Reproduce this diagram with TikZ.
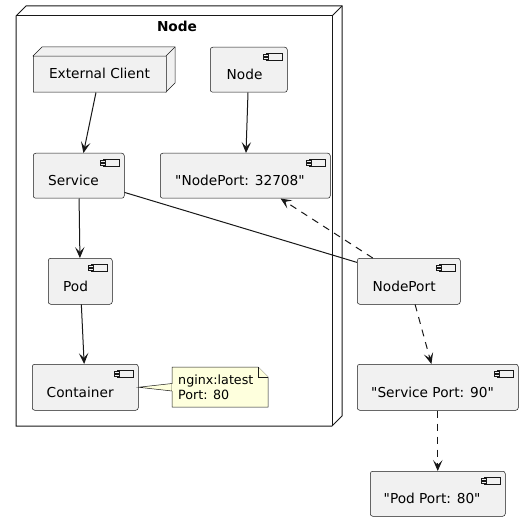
\documentclass[tikz,border=0pt]{standalone}
\usepackage{fontspec}
\setmainfont{DejaVu Sans}[Ligatures=TeXOff]
\usetikzlibrary{arrows.meta,calc}
\definecolor{compfill}{HTML}{F1F1F1}
\definecolor{compborder}{HTML}{181818}
\definecolor{notefill}{HTML}{FEFFDD}
\tikzset{
  comp/.style={draw=compborder, fill=compfill, line width=0.5pt, rounded corners=2.5pt, inner sep=0pt},
  iconst/.style={draw=compborder, fill=compfill, line width=0.5pt},
  lbl/.style={inner sep=0pt, font=\fontsize{13.7}{16}\selectfont, text=black},
  notelbl/.style={inner sep=0pt, font=\fontsize{12.7}{15}\selectfont, text=black},
  conn/.style={draw=compborder, line width=1pt},
  arr/.style={conn, -{Stealth[length=11pt, width=9.5pt, inset=5pt]}},
  dsh/.style={arr, dash pattern=on 7pt off 6pt},
}
\newcommand\cicon[1]{%
  \draw[iconst] ($(#1.north east)+(-21,6)$) rectangle ($(#1.north east)+(-5,13)$);
  \draw[iconst] ($(#1.north east)+(-24,7)$) rectangle ($(#1.north east)+(-19,9)$);
  \draw[iconst] ($(#1.north east)+(-24,10)$) rectangle ($(#1.north east)+(-19,12)$);
}
\begin{document}
\begin{tikzpicture}[x=1pt,y=-1pt]
\useasboundingbox (0,0) rectangle (532,521);
% outer node
\draw[line width=1pt, draw=compborder, fill=white] (16,16) -- (26,6) -- (342,6) -- (342,416) -- (332,426) -- (16,426) -- cycle;
\draw[line width=1pt, draw=compborder] (16,16) -- (332,16) -- (332,426);
\draw[line width=1pt, draw=compborder] (332,16) -- (342,6);
\node[inner sep=0pt, font=\fontsize{13.7}{16}\selectfont\bfseries, anchor=base] (title) at (177,31.5) {Node};
% external client (3D node)
\draw[iconst] (33,56) -- (42,47) -- (175,47) -- (175,83) -- (166,92) -- cycle;
\draw[iconst] (166,56) -- (175,47);
\node[comp, rounded corners=0.3pt, minimum width=133pt, minimum height=36pt, anchor=north west] (ext) at (33,56) {};
\node[lbl, anchor=base] (extl) at (99.5,79) {External Client};
% components
\node[comp, minimum width=77pt, minimum height=45pt, anchor=north west] (nd) at (210,47) {};
\node[comp, minimum width=91pt, minimum height=45pt, anchor=north west] (svc) at (33,153) {};
\node[comp, minimum width=170pt, minimum height=45pt, anchor=north west] (np32) at (160,153) {};
\node[comp, minimum width=64pt, minimum height=46pt, anchor=north west] (pod) at (48,258) {};
\node[comp, minimum width=106pt, minimum height=46pt, anchor=north west] (cont) at (32,364) {};
\node[comp, minimum width=103pt, minimum height=46pt, anchor=north west] (nport) at (357,258) {};
\node[comp, minimum width=161pt, minimum height=46pt, anchor=north west] (sport) at (357,364) {};
\node[comp, minimum width=135pt, minimum height=45pt, anchor=north west] (pport) at (370,471) {};
\foreach \n in {nd,svc,np32,pod,cont,nport,sport,pport} {\cicon{\n}}
\node[lbl, anchor=base west] (ndl) at ($(nd.north west)+(16.5,32.5)$) {Node};
\node[lbl, anchor=base west] (svcl) at ($(svc.north west)+(15,32.5)$) {Service};
\node[lbl, anchor=base west] (np32l) at ($(np32.north west)+(15,32.5)$) {"NodePort: 32708"};
\node[lbl, anchor=base west] (podl) at ($(pod.north west)+(15,33)$) {Pod};
\node[lbl, anchor=base west] (contl) at ($(cont.north west)+(14.5,33)$) {Container};
\node[lbl, anchor=base west] (nportl) at ($(nport.north west)+(15.5,33)$) {NodePort};
\node[lbl, anchor=base west] (sportl) at ($(sport.north west)+(14,33)$) {"Service Port: 90"};
\node[lbl, anchor=base west] (pportl) at ($(pport.north west)+(13.5,32.5)$) {"Pod Port: 80"};
% note
\coordinate (nanchor) at (cont.east);
\draw[draw=compborder, fill=notefill, line width=0.5pt] (nanchor) -- (172,383.5) -- (172,391) -- cycle;
\draw[draw=compborder, fill=notefill, line width=0.5pt] (172,367) -- (258,367) -- (268,377) -- (268,407) -- (172,407) -- cycle;
\draw[draw=compborder, fill=notefill, line width=0.5pt] (258,367) -- (258,377) -- (268,377);
\fill[notefill] (172.3,384) rectangle (173,390.5);
\node[notelbl, anchor=base west] (note1) at (178,384) {nginx:latest};
\node[notelbl, anchor=base west] (note2) at (178,399) {Port: 80};
% connectors
\draw[arr] (ext) -- (svc);
\draw[arr] (nd) -- (np32);
\draw[arr] (svc) -- (pod);
\draw[arr] (pod) -- (cont);
\draw[conn] (svc.-20) -- (nport.160);
\draw[dsh] (nport) -- (np32);
\draw[dsh] (nport) -- (sport);
\draw[dsh] (sport) -- (pport);
\end{tikzpicture}
\end{document}
